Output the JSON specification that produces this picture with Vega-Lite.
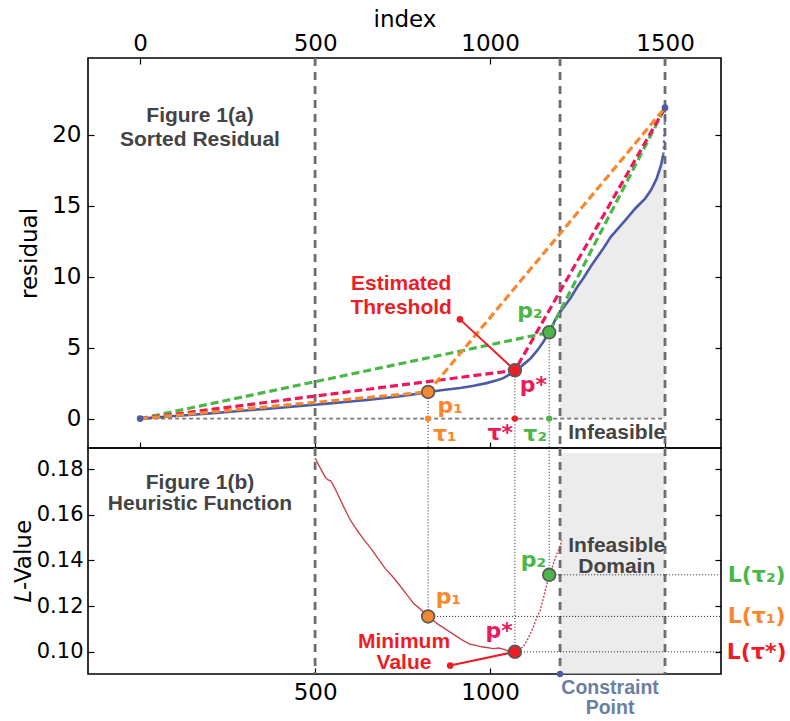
{
  "$schema": "https://vega.github.io/schema/vega-lite/v6.json",
  "padding": {"left": 11, "top": 7, "right": 0, "bottom": 0},
  "spacing": 0,
  "bounds": "flush",
  "config": {
    "view": {"stroke": "black", "strokeWidth": 1.6},
    "axis": {
      "grid": false, "domain": false,
      "labelFont": "DejaVu Sans", "titleFont": "DejaVu Sans",
      "labelFontSize": 23, "titleFontSize": 23, "titleFontWeight": "normal",
      "labelColor": "black", "titleColor": "black",
      "tickColor": "black", "tickSize": 6, "tickWidth": 1.2, "offset": -6
    }
  },
  "datasets": {
    "resid": [
      {"i": 0, "v": 0, "part": "body"}, {"i": 50, "v": 0.09, "part": "body"}, {"i": 100, "v": 0.18, "part": "body"},
      {"i": 150, "v": 0.27, "part": "body"}, {"i": 200, "v": 0.37, "part": "body"}, {"i": 250, "v": 0.47, "part": "body"},
      {"i": 300, "v": 0.57, "part": "body"}, {"i": 350, "v": 0.67, "part": "body"}, {"i": 400, "v": 0.77, "part": "body"},
      {"i": 450, "v": 0.88, "part": "body"}, {"i": 500, "v": 0.98, "part": "body"}, {"i": 550, "v": 1.09, "part": "body"},
      {"i": 600, "v": 1.2, "part": "body"}, {"i": 650, "v": 1.32, "part": "body"}, {"i": 700, "v": 1.45, "part": "body"},
      {"i": 750, "v": 1.6, "part": "body"}, {"i": 800, "v": 1.77, "part": "body"}, {"i": 823, "v": 1.88, "part": "body"},
      {"i": 860, "v": 2.0, "part": "body"}, {"i": 914, "v": 2.15, "part": "body"}, {"i": 950, "v": 2.3, "part": "body"},
      {"i": 990, "v": 2.5, "part": "body"}, {"i": 1020, "v": 2.7, "part": "body"}, {"i": 1038, "v": 2.85, "part": "body"},
      {"i": 1055, "v": 3.1, "part": "body"}, {"i": 1071, "v": 3.4, "part": "body"}, {"i": 1090, "v": 3.7, "part": "body"},
      {"i": 1114, "v": 4.2, "part": "body"}, {"i": 1135, "v": 4.8, "part": "body"}, {"i": 1152, "v": 5.4, "part": "body"},
      {"i": 1169, "v": 6.08, "part": "body"}, {"i": 1185, "v": 6.9, "part": "body"}, {"i": 1200, "v": 7.5, "part": "body"},
      {"i": 1209, "v": 7.8, "part": "body"}, {"i": 1230, "v": 8.5, "part": "body"}, {"i": 1250, "v": 9.3, "part": "body"},
      {"i": 1267, "v": 9.9, "part": "body"}, {"i": 1290, "v": 10.8, "part": "body"}, {"i": 1310, "v": 11.5, "part": "body"},
      {"i": 1324, "v": 12.0, "part": "body"}, {"i": 1345, "v": 12.8, "part": "body"}, {"i": 1370, "v": 13.5, "part": "body"},
      {"i": 1391, "v": 14.1, "part": "body"}, {"i": 1415, "v": 14.8, "part": "body"}, {"i": 1443, "v": 15.5, "part": "body"},
      {"i": 1460, "v": 16.1, "part": "body"}, {"i": 1476, "v": 16.9, "part": "body"}, {"i": 1488, "v": 17.8, "part": "body"},
      {"i": 1495, "v": 18.6, "part": "body"},
      {"i": 1495, "v": 18.6, "part": "tail"}, {"i": 1497, "v": 19.5, "part": "tail"}, {"i": 1499, "v": 20.5, "part": "tail"},
      {"i": 1500, "v": 21.9, "part": "tail"}
    ],
    "lcurve": [
      {"i": 500, "v": 0.1848, "part": "falling"}, {"i": 510, "v": 0.1818, "part": "falling"},
      {"i": 520, "v": 0.179, "part": "falling"}, {"i": 530, "v": 0.1762, "part": "falling"},
      {"i": 537, "v": 0.1752, "part": "falling"}, {"i": 545, "v": 0.1748, "part": "falling"},
      {"i": 560, "v": 0.1705, "part": "falling"}, {"i": 580, "v": 0.164, "part": "falling"},
      {"i": 600, "v": 0.1578, "part": "falling"}, {"i": 620, "v": 0.1532, "part": "falling"},
      {"i": 640, "v": 0.149, "part": "falling"}, {"i": 660, "v": 0.1452, "part": "falling"},
      {"i": 676, "v": 0.1417, "part": "falling"}, {"i": 700, "v": 0.1365, "part": "falling"},
      {"i": 720, "v": 0.1332, "part": "falling"}, {"i": 738, "v": 0.1298, "part": "falling"},
      {"i": 760, "v": 0.1255, "part": "falling"}, {"i": 781, "v": 0.1213, "part": "falling"},
      {"i": 800, "v": 0.1188, "part": "falling"}, {"i": 823, "v": 0.1155, "part": "falling"},
      {"i": 850, "v": 0.1122, "part": "falling"}, {"i": 876, "v": 0.1096, "part": "falling"},
      {"i": 900, "v": 0.1072, "part": "falling"}, {"i": 920, "v": 0.1052, "part": "falling"},
      {"i": 943, "v": 0.1033, "part": "falling"}, {"i": 960, "v": 0.1028, "part": "falling"},
      {"i": 975, "v": 0.1022, "part": "falling"}, {"i": 990, "v": 0.1019, "part": "falling"},
      {"i": 1009, "v": 0.1014, "part": "falling"}, {"i": 1025, "v": 0.1017, "part": "falling"},
      {"i": 1040, "v": 0.1011, "part": "falling"}, {"i": 1052, "v": 0.1003, "part": "falling"},
      {"i": 1060, "v": 0.1006, "part": "falling"}, {"i": 1071, "v": 0.1, "part": "falling"},
      {"i": 1071, "v": 0.1, "part": "rising"}, {"i": 1085, "v": 0.1012, "part": "rising"},
      {"i": 1095, "v": 0.1023, "part": "rising"}, {"i": 1105, "v": 0.1048, "part": "rising"},
      {"i": 1115, "v": 0.1078, "part": "rising"}, {"i": 1124, "v": 0.111, "part": "rising"},
      {"i": 1133, "v": 0.1148, "part": "rising"}, {"i": 1143, "v": 0.118, "part": "rising"},
      {"i": 1155, "v": 0.125, "part": "rising"}, {"i": 1169, "v": 0.1337, "part": "rising"},
      {"i": 1178, "v": 0.1372, "part": "rising"}, {"i": 1190, "v": 0.1425, "part": "rising"},
      {"i": 1200, "v": 0.146, "part": "rising"}, {"i": 1205, "v": 0.149, "part": "rising"}
    ],
    "guides": [{"i": 500}, {"i": 1200}, {"i": 1500}],
    "baseline": [{"i": 0, "v": 0}, {"i": 1500, "v": 0}],
    "picks": [
      {"key": "tau1", "i": 823, "r": 1.88, "L": 0.1155},
      {"key": "taustar", "i": 1071, "r": 3.4, "L": 0.1},
      {"key": "tau2", "i": 1169, "r": 6.08, "L": 0.1337}
    ],
    "ends": [{"i": 0, "v": 0}, {"i": 1500, "v": 21.9}],
    "chords": [
      {"key": "tau2", "i": 0, "v": 0}, {"key": "tau2", "i": 1169, "v": 6.08}, {"key": "tau2", "i": 1500, "v": 21.9},
      {"key": "taustar", "i": 0, "v": 0}, {"key": "taustar", "i": 1071, "v": 3.4}, {"key": "taustar", "i": 1500, "v": 21.9},
      {"key": "tau1", "i": 0, "v": 0}, {"key": "tau1", "i": 823, "v": 1.88}, {"key": "tau1", "i": 1500, "v": 21.9}
    ],
    "pointerA": [{"i": 914, "v": 6.99, "end": "tail"}, {"i": 1071, "v": 3.4, "end": "head"}],
    "pointerB": [{"i": 886, "v": 0.094, "end": "tail"}, {"i": 1071, "v": 0.1, "end": "head"}],
    "infeasibleB": [{"i": 1200, "i2": 1500, "v": 0.0905, "v2": 0.187}],
    "constraint": [{"i": 1200, "v": 0.0903}],
    "constraintLabel": [{"i": 1343, "v": 0.0841, "t": ["Constraint", "Point"]}],
    "notesA": [
      {"i": 171, "v": 21.3, "t": ["Figure 1(a)", "Sorted Residual"], "key": "caption"},
      {"i": 746, "v": 9.47, "t": ["Estimated", "Threshold"], "key": "estimate"},
      {"i": 1362, "v": -1.0, "t": "Infeasible", "key": "caption"}
    ],
    "symA": [
      {"i": 886, "v": 0.88, "t": "p₁", "key": "tau1"},
      {"i": 1124, "v": 2.4, "t": "p*", "key": "taustar"},
      {"i": 1114, "v": 7.57, "t": "p₂", "key": "tau2"},
      {"i": 871, "v": -1.11, "t": "τ₁", "key": "tau1"},
      {"i": 1029, "v": -1.0, "t": "τ*", "key": "taustar"},
      {"i": 1129, "v": -1.11, "t": "τ₂", "key": "tau2"}
    ],
    "notesB": [
      {"i": 171, "v": 0.1738, "t": ["Figure 1(b)", "Heuristic Function"], "key": "caption"},
      {"i": 754, "v": 0.1045, "t": ["Minimum", "Value"], "key": "estimate"},
      {"i": 1362, "v": 0.1464, "t": ["Infeasible", "Domain"], "key": "caption"}
    ],
    "symB": [
      {"i": 881, "v": 0.1242, "t": "p₁", "key": "tau1"},
      {"i": 1026, "v": 0.1089, "t": "p*", "key": "taustar"},
      {"i": 1124, "v": 0.1403, "t": "p₂", "key": "tau2"},
      {"i": 1762, "v": 0.1337, "t": "L(τ₂)", "key": "tau2"},
      {"i": 1762, "v": 0.1155, "t": "L(τ₁)", "key": "tau1"},
      {"i": 1762, "v": 0.1, "t": "L(τ*)", "key": "estimate"}
    ]
  },
  "vconcat": [
    {
      "width": 633,
      "height": 390,
      "resolve": {"scale": {"color": "independent"}, "axis": {"x": "independent", "y": "independent"}},
      "layer": [
        {
          "data": {"name": "resid"},
          "transform": [{"filter": "datum.i >= 1200"}],
          "mark": {"type": "area", "color": "#ececec"},
          "encoding": {
            "x": {"field": "i", "type": "quantitative", "scale": {"domain": [-149, 1660], "nice": false, "zero": false}, "axis": null},
            "y": {"field": "v", "type": "quantitative", "scale": {"domain": [-2.07, 25.4], "nice": false, "zero": false},
                  "axis": {"orient": "left", "values": [0, 5, 10, 15, 20], "title": "residual", "labelPadding": 7, "titlePadding": 10}},
            "y2": {"datum": 0}
          }
        },
        {
          "data": {"name": "guides"},
          "mark": {"type": "rule", "color": "#6e6e6e", "strokeWidth": 2.8, "strokeDash": [8, 6]},
          "encoding": {
            "x": {"field": "i", "type": "quantitative", "scale": {"domain": [-149, 1660], "nice": false, "zero": false},
                  "axis": {"orient": "top", "values": [0, 500, 1000, 1500], "format": "d", "title": "index", "labelPadding": 3, "titlePadding": 1}}
          }
        },
        {
          "data": {"name": "baseline"},
          "mark": {"type": "line", "color": "#7a7a7a", "strokeWidth": 1.6, "strokeDash": [4, 3]},
          "encoding": {
            "x": {"field": "i", "type": "quantitative", "scale": {"domain": [-149, 1660], "nice": false, "zero": false}, "axis": null},
            "y": {"field": "v", "type": "quantitative", "scale": {"domain": [-2.07, 25.4], "nice": false, "zero": false}, "axis": null}
          }
        },
        {
          "data": {"name": "picks"},
          "mark": {"type": "rule", "color": "#222222", "strokeWidth": 1, "strokeDash": [1, 2]},
          "encoding": {
            "x": {"field": "i", "type": "quantitative", "scale": {"domain": [-149, 1660], "nice": false, "zero": false}, "axis": null},
            "y": {"field": "r", "type": "quantitative", "scale": {"domain": [-2.07, 25.4], "nice": false, "zero": false}, "axis": null},
            "y2": {"datum": -2.07}
          }
        },
        {
          "data": {"name": "resid"},
          "transform": [{"filter": "datum.part === 'body'"}],
          "mark": {"type": "line", "color": "#4b5ba8", "strokeWidth": 2.6},
          "encoding": {
            "x": {"field": "i", "type": "quantitative", "scale": {"domain": [-149, 1660], "nice": false, "zero": false},
                  "axis": {"orient": "bottom", "values": [0, 500, 1000, 1500], "labels": false, "title": null}},
            "y": {"field": "v", "type": "quantitative", "scale": {"domain": [-2.07, 25.4], "nice": false, "zero": false},
                  "axis": {"orient": "right", "values": [0, 5, 10, 15, 20], "labels": false, "title": null}}
          }
        },
        {
          "data": {"name": "resid"},
          "transform": [{"filter": "datum.part === 'tail'"}],
          "mark": {"type": "line", "color": "#4b5ba8", "strokeWidth": 2.2, "strokeDash": [2, 4]},
          "encoding": {
            "x": {"field": "i", "type": "quantitative", "scale": {"domain": [-149, 1660], "nice": false, "zero": false}, "axis": null},
            "y": {"field": "v", "type": "quantitative", "scale": {"domain": [-2.07, 25.4], "nice": false, "zero": false}, "axis": null}
          }
        },
        {
          "data": {"name": "chords"},
          "mark": {"type": "line", "strokeWidth": 3.2, "strokeDash": [8, 4]},
          "encoding": {
            "x": {"field": "i", "type": "quantitative", "scale": {"domain": [-149, 1660], "nice": false, "zero": false}, "axis": null},
            "y": {"field": "v", "type": "quantitative", "scale": {"domain": [-2.07, 25.4], "nice": false, "zero": false}, "axis": null},
            "color": {"field": "key", "type": "nominal", "legend": null,
                      "scale": {"domain": ["tau1", "taustar", "tau2"], "range": ["#f7882f", "#ec1a5a", "#4cb749"]}}
          }
        },
        {
          "data": {"name": "pointerA"},
          "mark": {"type": "line", "color": "#ee1d25", "strokeWidth": 2},
          "encoding": {
            "x": {"field": "i", "type": "quantitative", "scale": {"domain": [-149, 1660], "nice": false, "zero": false}, "axis": null},
            "y": {"field": "v", "type": "quantitative", "scale": {"domain": [-2.07, 25.4], "nice": false, "zero": false}, "axis": null}
          }
        },
        {
          "data": {"name": "pointerA"},
          "transform": [{"filter": "datum.end === 'tail'"}],
          "mark": {"type": "point", "filled": true, "opacity": 1, "color": "#ee1d25", "size": 45},
          "encoding": {
            "x": {"field": "i", "type": "quantitative", "scale": {"domain": [-149, 1660], "nice": false, "zero": false}, "axis": null},
            "y": {"field": "v", "type": "quantitative", "scale": {"domain": [-2.07, 25.4], "nice": false, "zero": false}, "axis": null}
          }
        },
        {
          "data": {"name": "ends"},
          "mark": {"type": "point", "filled": true, "opacity": 1, "color": "#4b5ba8", "size": 45},
          "encoding": {
            "x": {"field": "i", "type": "quantitative", "scale": {"domain": [-149, 1660], "nice": false, "zero": false}, "axis": null},
            "y": {"field": "v", "type": "quantitative", "scale": {"domain": [-2.07, 25.4], "nice": false, "zero": false}, "axis": null}
          }
        },
        {
          "data": {"name": "picks"},
          "mark": {"type": "point", "filled": true, "opacity": 1, "size": 40},
          "encoding": {
            "x": {"field": "i", "type": "quantitative", "scale": {"domain": [-149, 1660], "nice": false, "zero": false}, "axis": null},
            "y": {"datum": 0, "type": "quantitative", "scale": {"domain": [-2.07, 25.4], "nice": false, "zero": false}, "axis": null},
            "color": {"field": "key", "type": "nominal", "legend": null,
                      "scale": {"domain": ["tau1", "taustar", "tau2"], "range": ["#f7882f", "#ee1d25", "#4cb749"]}}
          }
        },
        {
          "data": {"name": "picks"},
          "mark": {"type": "point", "filled": true, "opacity": 1, "size": 160, "stroke": "#5c5c5c", "strokeWidth": 1.8},
          "encoding": {
            "x": {"field": "i", "type": "quantitative", "scale": {"domain": [-149, 1660], "nice": false, "zero": false}, "axis": null},
            "y": {"field": "r", "type": "quantitative", "scale": {"domain": [-2.07, 25.4], "nice": false, "zero": false}, "axis": null},
            "fill": {"field": "key", "type": "nominal", "legend": null,
                     "scale": {"domain": ["tau1", "taustar", "tau2"], "range": ["#f7882f", "#ee1d25", "#4cb749"]}}
          }
        },
        {
          "data": {"name": "notesA"},
          "mark": {"type": "text", "font": "Liberation Sans", "fontWeight": "bold", "fontSize": 21, "lineHeight": 24, "align": "center", "baseline": "middle"},
          "encoding": {
            "x": {"field": "i", "type": "quantitative", "scale": {"domain": [-149, 1660], "nice": false, "zero": false}, "axis": null},
            "y": {"field": "v", "type": "quantitative", "scale": {"domain": [-2.07, 25.4], "nice": false, "zero": false}, "axis": null},
            "text": {"field": "t"},
            "color": {"field": "key", "type": "nominal", "legend": null,
                      "scale": {"domain": ["caption", "estimate"], "range": ["#444444", "#ee1d25"]}}
          }
        },
        {
          "data": {"name": "symA"},
          "mark": {"type": "text", "font": "DejaVu Sans", "fontWeight": "bold", "fontSize": 22, "align": "center", "baseline": "middle"},
          "encoding": {
            "x": {"field": "i", "type": "quantitative", "scale": {"domain": [-149, 1660], "nice": false, "zero": false}, "axis": null},
            "y": {"field": "v", "type": "quantitative", "scale": {"domain": [-2.07, 25.4], "nice": false, "zero": false}, "axis": null},
            "text": {"field": "t"},
            "color": {"field": "key", "type": "nominal", "legend": null,
                      "scale": {"domain": ["tau1", "taustar", "tau2"], "range": ["#f7882f", "#ec1a5a", "#4cb749"]}}
          }
        }
      ]
    },
    {
      "width": 633,
      "height": 226,
      "resolve": {"scale": {"color": "independent"}, "axis": {"x": "independent", "y": "independent"}},
      "layer": [
        {
          "data": {"name": "infeasibleB"},
          "mark": {"type": "rect", "color": "#ececec"},
          "encoding": {
            "x": {"field": "i", "type": "quantitative", "scale": {"domain": [-149, 1660], "nice": false, "zero": false}, "axis": null},
            "x2": {"field": "i2"},
            "y": {"field": "v", "type": "quantitative", "scale": {"domain": [0.0903, 0.1892], "nice": false, "zero": false},
                  "axis": {"orient": "left", "values": [0.1, 0.12, 0.14, 0.16, 0.18], "format": ".2f", "labelFontSize": 21, "title": "𝐿-Value", "labelPadding": 5, "titlePadding": 1}},
            "y2": {"field": "v2"}
          }
        },
        {
          "data": {"name": "guides"},
          "mark": {"type": "rule", "color": "#6e6e6e", "strokeWidth": 2.8, "strokeDash": [8, 6]},
          "encoding": {
            "x": {"field": "i", "type": "quantitative", "scale": {"domain": [-149, 1660], "nice": false, "zero": false},
                  "axis": {"orient": "bottom", "values": [500, 1000], "format": "d", "title": null, "labelPadding": 7}}
          }
        },
        {
          "data": {"name": "picks"},
          "mark": {"type": "rule", "color": "#222222", "strokeWidth": 1, "strokeDash": [1, 2]},
          "encoding": {
            "x": {"field": "i", "type": "quantitative", "scale": {"domain": [-149, 1660], "nice": false, "zero": false}, "axis": null},
            "y": {"field": "L", "type": "quantitative", "scale": {"domain": [0.0903, 0.1892], "nice": false, "zero": false}, "axis": null},
            "y2": {"datum": 0.1892}
          }
        },
        {
          "data": {"name": "picks"},
          "mark": {"type": "rule", "color": "#222222", "strokeWidth": 1, "strokeDash": [1, 2]},
          "encoding": {
            "x": {"field": "i", "type": "quantitative", "scale": {"domain": [-149, 1660], "nice": false, "zero": false}, "axis": null},
            "x2": {"datum": 1660},
            "y": {"field": "L", "type": "quantitative", "scale": {"domain": [0.0903, 0.1892], "nice": false, "zero": false}, "axis": null}
          }
        },
        {
          "data": {"name": "lcurve"},
          "transform": [{"filter": "datum.part === 'falling'"}],
          "mark": {"type": "line", "color": "#c9454f", "strokeWidth": 1.4},
          "encoding": {
            "x": {"field": "i", "type": "quantitative", "scale": {"domain": [-149, 1660], "nice": false, "zero": false}, "axis": null},
            "y": {"field": "v", "type": "quantitative", "scale": {"domain": [0.0903, 0.1892], "nice": false, "zero": false},
                  "axis": {"orient": "right", "values": [0.1, 0.12, 0.14, 0.16, 0.18], "labels": false, "title": null}}
          }
        },
        {
          "data": {"name": "lcurve"},
          "transform": [{"filter": "datum.part === 'rising'"}],
          "mark": {"type": "line", "color": "#c9454f", "strokeWidth": 1.4, "strokeDash": [2, 1.5]},
          "encoding": {
            "x": {"field": "i", "type": "quantitative", "scale": {"domain": [-149, 1660], "nice": false, "zero": false}, "axis": null},
            "y": {"field": "v", "type": "quantitative", "scale": {"domain": [0.0903, 0.1892], "nice": false, "zero": false}, "axis": null}
          }
        },
        {
          "data": {"name": "pointerB"},
          "mark": {"type": "line", "color": "#ee1d25", "strokeWidth": 2},
          "encoding": {
            "x": {"field": "i", "type": "quantitative", "scale": {"domain": [-149, 1660], "nice": false, "zero": false}, "axis": null},
            "y": {"field": "v", "type": "quantitative", "scale": {"domain": [0.0903, 0.1892], "nice": false, "zero": false}, "axis": null}
          }
        },
        {
          "data": {"name": "pointerB"},
          "transform": [{"filter": "datum.end === 'tail'"}],
          "mark": {"type": "point", "filled": true, "opacity": 1, "color": "#ee1d25", "size": 45},
          "encoding": {
            "x": {"field": "i", "type": "quantitative", "scale": {"domain": [-149, 1660], "nice": false, "zero": false}, "axis": null},
            "y": {"field": "v", "type": "quantitative", "scale": {"domain": [0.0903, 0.1892], "nice": false, "zero": false}, "axis": null}
          }
        },
        {
          "data": {"name": "picks"},
          "mark": {"type": "point", "filled": true, "opacity": 1, "size": 160, "stroke": "#5c5c5c", "strokeWidth": 1.8},
          "encoding": {
            "x": {"field": "i", "type": "quantitative", "scale": {"domain": [-149, 1660], "nice": false, "zero": false}, "axis": null},
            "y": {"field": "L", "type": "quantitative", "scale": {"domain": [0.0903, 0.1892], "nice": false, "zero": false}, "axis": null},
            "fill": {"field": "key", "type": "nominal", "legend": null,
                     "scale": {"domain": ["tau1", "taustar", "tau2"], "range": ["#f7882f", "#ee1d25", "#4cb749"]}}
          }
        },
        {
          "data": {"name": "constraint"},
          "mark": {"type": "point", "filled": true, "opacity": 1, "color": "#4b5ba8", "size": 40},
          "encoding": {
            "x": {"field": "i", "type": "quantitative", "scale": {"domain": [-149, 1660], "nice": false, "zero": false}, "axis": null},
            "y": {"field": "v", "type": "quantitative", "scale": {"domain": [0.0903, 0.1892], "nice": false, "zero": false}, "axis": null}
          }
        },
        {
          "data": {"name": "constraintLabel"},
          "mark": {"type": "text", "font": "Liberation Sans", "fontWeight": "bold", "fontSize": 19.5, "lineHeight": 20, "align": "center", "baseline": "middle", "color": "#6b7fa3"},
          "encoding": {
            "x": {"field": "i", "type": "quantitative", "scale": {"domain": [-149, 1660], "nice": false, "zero": false}, "axis": null},
            "y": {"field": "v", "type": "quantitative", "scale": {"domain": [0.0903, 0.1892], "nice": false, "zero": false}, "axis": null},
            "text": {"field": "t"}
          }
        },
        {
          "data": {"name": "notesB"},
          "mark": {"type": "text", "font": "Liberation Sans", "fontWeight": "bold", "fontSize": 21, "lineHeight": 21, "align": "center", "baseline": "middle"},
          "encoding": {
            "x": {"field": "i", "type": "quantitative", "scale": {"domain": [-149, 1660], "nice": false, "zero": false}, "axis": null},
            "y": {"field": "v", "type": "quantitative", "scale": {"domain": [0.0903, 0.1892], "nice": false, "zero": false}, "axis": null},
            "text": {"field": "t"},
            "color": {"field": "key", "type": "nominal", "legend": null,
                      "scale": {"domain": ["caption", "estimate"], "range": ["#444444", "#ee1d25"]}}
          }
        },
        {
          "data": {"name": "symB"},
          "mark": {"type": "text", "font": "DejaVu Sans", "fontWeight": "bold", "fontSize": 22, "align": "center", "baseline": "middle"},
          "encoding": {
            "x": {"field": "i", "type": "quantitative", "scale": {"domain": [-149, 1660], "nice": false, "zero": false}, "axis": null},
            "y": {"field": "v", "type": "quantitative", "scale": {"domain": [0.0903, 0.1892], "nice": false, "zero": false}, "axis": null},
            "text": {"field": "t"},
            "color": {"field": "key", "type": "nominal", "legend": null,
                      "scale": {"domain": ["tau1", "taustar", "tau2", "estimate"], "range": ["#f7882f", "#ec1a5a", "#4cb749", "#ee1d25"]}}
          }
        }
      ]
    }
  ]
}
